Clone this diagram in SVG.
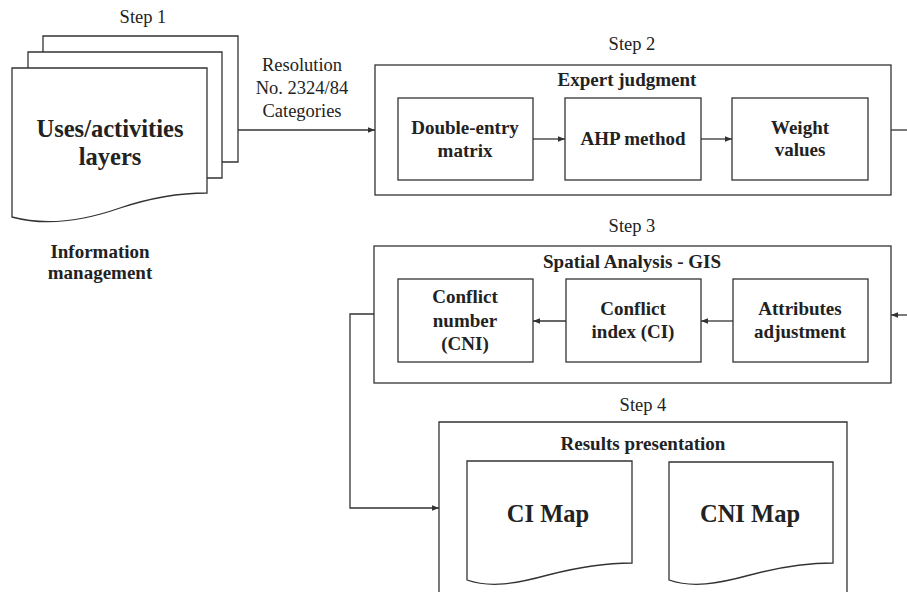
<svg xmlns="http://www.w3.org/2000/svg" width="907" height="592" viewBox="0 0 907 592">
<style>
.s{fill:#fff;stroke:#333;stroke-width:1.3}
.c{fill:none;stroke:#333;stroke-width:1.3}
text{fill:#222;text-anchor:middle}
.n{font-size:18.5px}
.b{font-size:19px;font-weight:bold}
.big{font-size:24.5px;font-weight:bold}
.map{font-size:24.5px;font-weight:bold}
</style>
<defs>
<marker id="ah" viewBox="0 0 10 10" refX="10" refY="5" markerWidth="7" markerHeight="7" orient="auto" markerUnits="userSpaceOnUse">
<path d="M0,1 L10,5 L0,9 z" fill="#333"/>
</marker>
</defs>
<rect width="907" height="592" fill="#fff"/>
<g font-family="Liberation Serif, DejaVu Serif, serif">

<g id="step1">
<text class="n" x="143" y="23">Step 1</text>
<path class="s" d="M43,36 H238 V162 H43 Z"/>
<path class="s" d="M28,52 H222 V178 H28 Z"/>
<path class="s" d="M12,68 H207 V193 C180,193 150,198 120,208 C80,222 45,226 12,217 Z"/>
<text class="big" x="110" y="137">Uses/activities</text>
<text class="big" x="110" y="165">layers</text>
<text class="b" x="100" y="258">Information</text>
<text class="b" x="100" y="279">management</text>
</g>

<g id="resolution-label">
<text class="n" x="302" y="71">Resolution</text>
<text class="n" x="302" y="94">No. 2324/84</text>
<text class="n" x="302" y="117">Categories</text>
</g>

<g id="step2">
<text class="n" x="632" y="50">Step 2</text>
<rect class="s" x="375" y="65" width="516" height="130"/>
<text class="b" x="627" y="86">Expert judgment</text>
</g>
<g id="double-entry">
<rect class="s" x="398" y="98" width="135" height="82"/>
<text class="b" x="465" y="134">Double-entry</text>
<text class="b" x="465" y="157">matrix</text>
</g>
<g id="ahp">
<rect class="s" x="565" y="98" width="136" height="82"/>
<text class="b" x="633" y="145">AHP method</text>
</g>
<g id="weight">
<rect class="s" x="732" y="98" width="136" height="82"/>
<text class="b" x="800" y="134">Weight</text>
<text class="b" x="800" y="156">values</text>
</g>

<g id="step3">
<text class="n" x="632" y="232">Step 3</text>
<rect class="s" x="374" y="246" width="517" height="137"/>
<text class="b" x="632" y="268">Spatial Analysis - GIS</text>
</g>
<g id="cni">
<rect class="s" x="398" y="279" width="135" height="83"/>
<text class="b" x="465" y="303">Conflict</text>
<text class="b" x="465" y="327">number</text>
<text class="b" x="465" y="350">(CNI)</text>
</g>
<g id="ci">
<rect class="s" x="566" y="279" width="135" height="83"/>
<text class="b" x="633" y="315">Conflict</text>
<text class="b" x="633" y="338">index (CI)</text>
</g>
<g id="attributes">
<rect class="s" x="733" y="279" width="135" height="83"/>
<text class="b" x="800" y="315">Attributes</text>
<text class="b" x="800" y="338">adjustment</text>
</g>

<g id="step4">
<text class="n" x="643" y="411">Step 4</text>
<path class="c" d="M439,600 V422 H847 V600"/>
<text class="b" x="643" y="450">Results presentation</text>
</g>
<g id="ci-map">
<path class="s" d="M467,461 H632 V563 C605,563 575,568 548,575 C515,584 490,588 467,580 Z"/>
<text class="map" x="548" y="522">CI Map</text>
</g>
<g id="cni-map">
<path class="s" d="M669,462 H833 V563 C806,563 776,568 750,575 C717,584 692,588 669,580 Z"/>
<text class="map" x="750" y="522">CNI Map</text>
</g>
</g>

<g id="connectors">
<path class="c" d="M238,130 H375" marker-end="url(#ah)"/>
<path class="c" d="M533,139 H565" marker-end="url(#ah)"/>
<path class="c" d="M701,139 H732" marker-end="url(#ah)"/>
<path class="c" d="M891,130 H907"/>
<path class="c" d="M907,315 H891" marker-end="url(#ah)"/>
<path class="c" d="M733,321 H701" marker-end="url(#ah)"/>
<path class="c" d="M566,321 H533" marker-end="url(#ah)"/>
<path class="c" d="M374,314 H350 V508 H439" marker-end="url(#ah)"/>
</g>
</svg>
